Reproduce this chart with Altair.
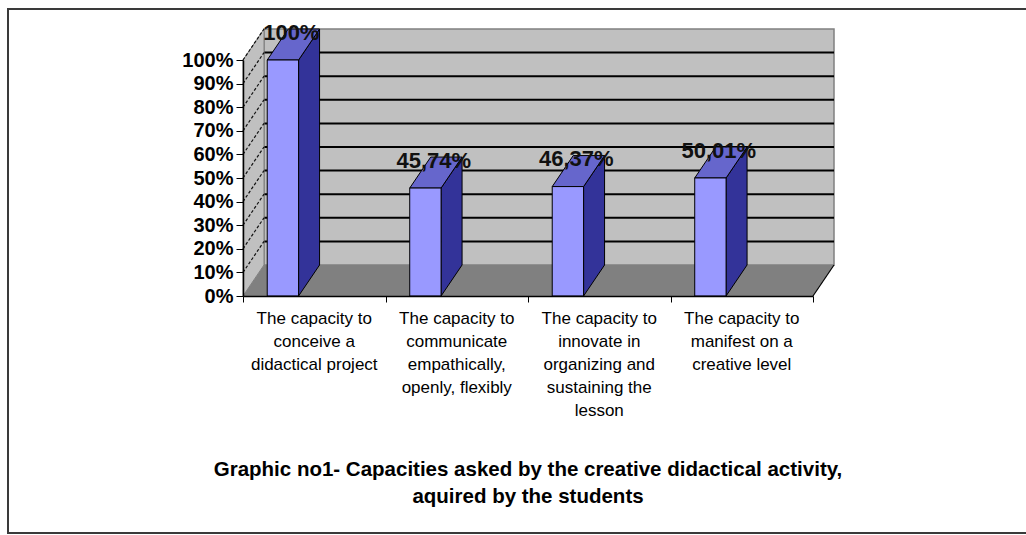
import altair as alt
import pandas as pd

# ---- chart content -------------------------------------------------------
categories = [
    "The capacity to\nconceive a\ndidactical project",
    "The capacity to\ncommunicate\nempathically,\nopenly, flexibly",
    "The capacity to\ninnovate in\norganizing and\nsustaining the\nlesson",
    "The capacity to\nmanifest on a\ncreative level",
]
values = [100, 45.74, 46.37, 50.01]
value_labels = ["100%", "45,74%", "46,37%", "50,01%"]
y_ticks = [0, 10, 20, 30, 40, 50, 60, 70, 80, 90, 100]
title_lines = [
    "Graphic no1- Capacities asked by the creative didactical activity,",
    "aquired by the students",
]

# ---- layout / 3-D box geometry (in scale units) ---------------------------
FONT = "Liberation Sans"
W, H = 570, 236
N = len(categories)
DX = 21 / (W / N)        # depth shift along x, in category units
DY = 31 / (H / 100)      # depth shift along y, in percent
BAR_L, BAR_R = 0.17, 0.39

WALL = "#C0C0C0"
FLOOR = "#808080"
FRONT = "#9999FF"
SIDE = "#333399"
TOP = "#6666CC"

XS = alt.Scale(domain=[0, N], nice=False, zero=False)
YS = alt.Scale(domain=[0, 100], nice=False, zero=False)
XAX = alt.Axis(values=list(range(N + 1)), labels=False, tickSize=6, tickColor="black",
               domainColor="black", domainWidth=1.5, grid=False, title=None, zindex=1)
YAX = alt.Axis(values=y_ticks, labelExpr="datum.value + '%'", labelFont=FONT,
               labelFontSize=20, labelFontWeight="bold", labelColor="black",
               tickSize=7, tickColor="black", domainColor="black", domainWidth=1.5,
               labelPadding=3, grid=False, title=None, zindex=1)


def X(field):
    return alt.X(field, type="quantitative", scale=XS, axis=XAX)


def Y(field):
    return alt.Y(field, type="quantitative", scale=YS, axis=YAX)


# ---- data tables built from the arrays above ------------------------------
bars = pd.DataFrame({"cat": list(range(N)), "value": values, "label": value_labels})
bars["x0"] = bars["cat"] + BAR_L
bars["x1"] = bars["cat"] + BAR_R
bars["zero"] = 0.0
bars["lx"] = (bars["x0"] + bars["x1"]) / 2 + DX * 0.4
bars["ly"] = bars["value"] + DY - 1.5

side_rows, top_rows = [], []
for i, v in enumerate(values):
    x0, x1 = i + BAR_L, i + BAR_R
    side_rows += [
        {"bar": i, "px": x1, "lo": 0.0, "hi": v},
        {"bar": i, "px": x1 + DX, "lo": DY, "hi": v + DY},
    ]
    top_rows += [
        {"bar": i, "py": v, "xa": x0, "xb": x1},
        {"bar": i, "py": v + DY, "xa": x0 + DX, "xb": x1 + DX},
    ]
side_df = pd.DataFrame(side_rows)
top_df = pd.DataFrame(top_rows)

back_df = pd.DataFrame({"bx": [DX], "bx2": [N + DX], "by": [DY], "by2": [100 + DY]})
grid_df = pd.DataFrame({"k": [t + DY for t in y_ticks if 0 < t < 100],
                        "gx": DX, "gx2": N + DX})
sidewall_df = pd.DataFrame({"px": [0.0, DX], "lo": [0.0, DY], "hi": [100.0, 100 + DY]})
diag_df = pd.DataFrame({"dx0": 0.0, "dx1": DX,
                        "dy0": [float(t) for t in y_ticks if t > 0]})
diag_df["dy1"] = diag_df["dy0"] + DY
floor_df = pd.DataFrame({"py": [0.0, DY], "xa": [0.0, DX], "xb": [float(N), N + DX]})
edge_df = pd.DataFrame({"ex": [float(N)], "ex2": [N + DX], "ey": [0.0], "ey2": [DY]})
cat_df = pd.DataFrame({"xc": [i + 0.5 for i in range(N)], "text": categories})
title_df = pd.DataFrame({"xc": [N / 2], "text": ["\n".join(title_lines)]})

# ---- layers ----------------------------------------------------------------
frame = alt.Chart(pd.DataFrame({"f": [0]})).mark_rect(
    fill=None, stroke="#3a3a3a", strokeWidth=2
).encode(x=alt.value(-235), x2=alt.value(900), y=alt.value(-51), y2=alt.value(473))

back = alt.Chart(back_df).mark_rect(fill=WALL, stroke=FLOOR, strokeWidth=1.5).encode(
    x=X("bx"), x2="bx2", y=Y("by"), y2="by2")

grid = alt.Chart(grid_df).mark_rule(color="black", strokeWidth=2).encode(
    x=X("gx"), x2="gx2", y=Y("k"))

sidewall = alt.Chart(sidewall_df).mark_area(fill=WALL, stroke=FLOOR, strokeWidth=1).encode(
    x=X("px"), y=Y("lo"), y2="hi")

diag = alt.Chart(diag_df).mark_rule(color="#111111", strokeWidth=1.2, strokeDash=[3, 2]).encode(
    x=X("dx0"), x2="dx1", y=Y("dy0"), y2="dy1")

floor = alt.Chart(floor_df).mark_area(orient="horizontal", fill=FLOOR).encode(
    y=Y("py"), x=X("xa"), x2="xb")

floor_edge = alt.Chart(edge_df).mark_rule(color="black", strokeWidth=1.2).encode(
    x=X("ex"), x2="ex2", y=Y("ey"), y2="ey2")

side_faces = alt.Chart(side_df).mark_area(fill=SIDE, stroke="black", strokeWidth=1).encode(
    x=X("px"), y=Y("lo"), y2="hi", detail="bar:N")

top_faces = alt.Chart(top_df).mark_area(orient="horizontal", fill=TOP, stroke="black",
                                        strokeWidth=1).encode(
    y=Y("py"), x=X("xa"), x2="xb", detail="bar:N")

fronts = alt.Chart(bars).mark_rect(fill=FRONT, stroke="black", strokeWidth=1).encode(
    x=X("x0"), x2="x1", y=Y("zero"), y2="value")

vlabels = alt.Chart(bars).mark_text(font=FONT, fontSize=22, fontWeight="bold", color="#111111",
                                    baseline="middle", align="center").encode(
    x=X("lx"), y=Y("ly"), text="label:N")

cat_text = alt.Chart(cat_df).mark_text(font=FONT, fontSize=17, color="black", lineBreak="\n",
                                       lineHeight=23, baseline="top", align="center").encode(
    x=X("xc"), y=alt.value(251), text="text:N")

title_text = alt.Chart(title_df).mark_text(font=FONT, fontSize=20.5, fontWeight="bold",
                                           color="black", lineBreak="\n", lineHeight=27,
                                           baseline="top", align="center").encode(
    x=X("xc"), y=alt.value(400), text="text:N")

chart = alt.layer(
    frame, back, grid, sidewall, diag, floor, floor_edge,
    side_faces, top_faces, fronts, vlabels, cat_text, title_text,
).properties(
    width=W, height=H,
    padding={"left": 243, "top": 60, "right": 213, "bottom": 239},
    autosize=alt.AutoSizeParams(type="none"),
    background="white",
).configure_view(stroke=None)

chart.save("out.html", embed_options={"renderer": "svg", "actions": False})
